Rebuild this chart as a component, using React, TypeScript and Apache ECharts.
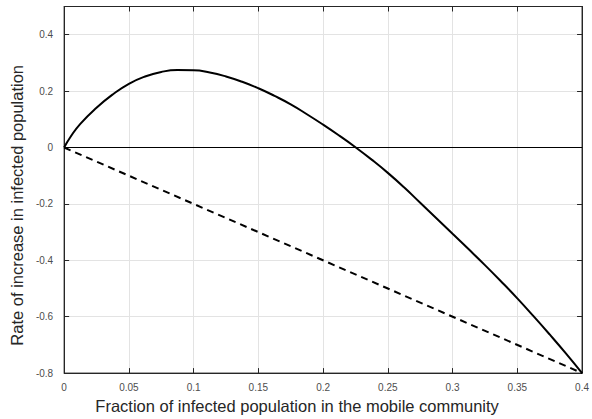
import React, { useEffect, useRef } from "react";
import * as echarts from "echarts";

const curveX = [0, 0.005, 0.0125, 0.025, 0.0375, 0.05, 0.0625, 0.075, 0.0875, 0.1, 0.1125, 0.125, 0.1375, 0.15, 0.1625, 0.175, 0.1875, 0.2, 0.2125, 0.225, 0.2375, 0.25, 0.2625, 0.275, 0.2875, 0.3, 0.3125, 0.325, 0.3375, 0.35, 0.3625, 0.375, 0.3875, 0.4];
const curveY = [0, 0.038, 0.084, 0.141, 0.188, 0.226, 0.252, 0.268, 0.2745, 0.274, 0.266, 0.252, 0.233, 0.21, 0.183, 0.153, 0.118, 0.081, 0.042, 0.001, -0.043, -0.09, -0.141, -0.196, -0.251, -0.306, -0.361, -0.417, -0.475, -0.535, -0.598, -0.663, -0.73, -0.8];
const dashX = [0, 0.4];
const dashY = [0, -0.8];
const zeroX = [0, 0.4];
const zeroY = [0, 0];
const xTicks = ["0", "0.05", "0.1", "0.15", "0.2", "0.25", "0.3", "0.35", "0.4"];
const yTicks = ["-0.8", "-0.6", "-0.4", "-0.2", "0", "0.2", "0.4"];
const xName = "Fraction of infected population in the mobile community";
const yName = "Rate of increase in infected population";

const zip = (a: number[], b: number[]) => a.map((v, i) => [v, b[i]]);

export default function App() {
  const ref = useRef<HTMLDivElement>(null);
  useEffect(() => {
    if (!ref.current) return;
    const chart = echarts.init(ref.current, undefined, { renderer: "svg" });
    const font = "Liberation Sans, Arial, Helvetica, sans-serif";
    const axisColor = "#262626";
    const fmtX = (v: number) => {
      const i = Math.round(v / 0.05);
      return Math.abs(v - i * 0.05) < 1e-9 && i >= 0 && i < xTicks.length ? xTicks[i] : "";
    };
    const fmtY = (v: number) => {
      const i = Math.round((v + 0.8) / 0.2);
      return Math.abs(v - (-0.8 + i * 0.2)) < 1e-9 && i >= 0 && i < yTicks.length ? yTicks[i] : "";
    };
    const common = {
      axisLine: { show: true, onZero: false, lineStyle: { color: axisColor, width: 1 } },
      axisTick: { show: true, inside: true, length: 5, lineStyle: { color: axisColor } },
    };
    chart.setOption({
      animation: false,
      backgroundColor: "#ffffff",
      grid: {
        left: 58.5,
        right: 8.5,
        top: 6.5,
        bottom: 41,
        show: true,
        borderColor: axisColor,
        borderWidth: 1,
      },
      xAxis: [
        {
          type: "value",
          min: 0,
          max: 0.4,
          interval: 0.05,
          position: "bottom",
          ...common,
          axisLabel: { formatter: fmtX, color: "#4d4d4d", fontSize: 10, fontFamily: font, margin: 9 },
          splitLine: { show: true, lineStyle: { color: "#e3e3e3", width: 1 } },
          name: xName,
          nameLocation: "middle",
          nameGap: 20,
          nameTextStyle: { color: axisColor, fontSize: 16.5, fontFamily: font, padding: [0, 52, 0, 0] },
        },
        {
          type: "value",
          min: 0,
          max: 0.4,
          interval: 0.05,
          position: "top",
          ...common,
          axisLabel: { show: false },
          splitLine: { show: false },
        },
      ],
      yAxis: [
        {
          type: "value",
          min: -0.8,
          max: 0.5,
          interval: 0.2,
          position: "left",
          ...common,
          axisLabel: { formatter: fmtY, color: "#4d4d4d", fontSize: 10, fontFamily: font, margin: 11, showMaxLabel: false },
          splitLine: { show: true, lineStyle: { color: "#e3e3e3", width: 1 } },
          name: yName,
          nameLocation: "middle",
          nameGap: 25,
          nameTextStyle: { color: axisColor, fontSize: 16.5, fontFamily: font, padding: [0, 31, 0, 0] },
        },
        {
          type: "value",
          min: -0.8,
          max: 0.5,
          interval: 0.2,
          position: "right",
          ...common,
          axisLabel: { show: false },
          splitLine: { show: false },
        },
      ],
      series: [
        {
          type: "line",
          data: zip(zeroX, zeroY),
          symbol: "none",
          lineStyle: { color: "#000", width: 1 },
          silent: true,
        },
        {
          type: "line",
          data: zip(dashX, dashY),
          symbol: "none",
          lineStyle: { color: "#000", width: 2, type: [7, 5] },
        },
        {
          type: "line",
          data: zip(curveX, curveY),
          symbol: "none",
          smooth: 0.5,
          lineStyle: { color: "#000", width: 2 },
        },
      ],
    });
    return () => chart.dispose();
  }, []);
  return (
    <div
      ref={ref}
      style={{ position: "absolute", left: 0, top: 0, width: 592, height: 419 }}
    />
  );
}
